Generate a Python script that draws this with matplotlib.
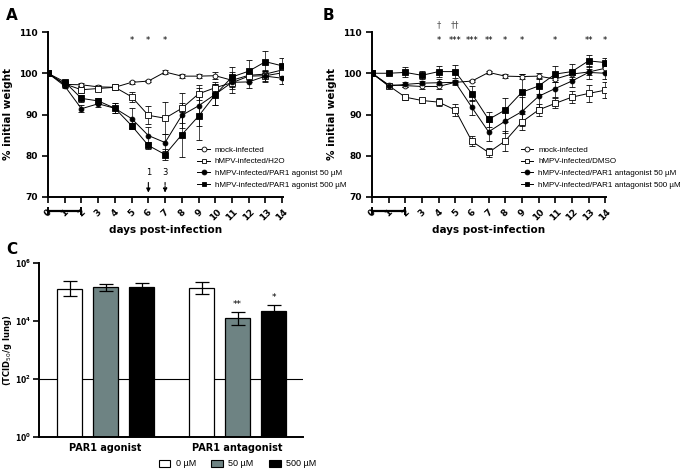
import matplotlib

matplotlib.use("Agg")
import matplotlib.pyplot as plt
from matplotlib.lines import Line2D
from matplotlib.patches import Patch

days = list(range(15))

# panel A: PAR1 agonist
a_mock = [100, 97.3, 97.2, 96.7, 96.6, 97.8, 98.1, 100.3, 99.3, 99.3, 99.4, 98.3, 99.5, 99.8, 100.8]
a_mock_err = [0, 0.4, 0.4, 0.5, 0.5, 0.3, 0.3, 0.4, 0.4, 0.5, 0.8, 1.2, 0.6, 0.8, 1.0]
a_h2o = [100, 97.4, 96.0, 96.3, 96.6, 94.3, 89.8, 89.1, 91.5, 95.0, 96.5, 97.7, 99.3, 99.4, 100.1]
a_h2o_err = [0, 0.5, 0.8, 0.7, 0.7, 1.2, 2.2, 3.9, 3.6, 1.5, 1.3, 1.5, 1.0, 1.2, 1.5]
a_50 = [100, 96.9, 91.4, 92.6, 91.5, 89.0, 84.9, 83.2, 89.8, 92.1, 94.9, 97.8, 97.9, 99.3, 98.8]
a_50_err = [0, 0.5, 0.9, 0.8, 1.2, 2.5, 2.0, 2.0, 3.0, 5.0, 2.5, 2.5, 1.5, 1.5, 1.5]
a_500 = [100, 97.9, 93.9, 93.3, 91.5, 87.3, 82.5, 80.3, 85.1, 89.6, 94.8, 99.1, 100.5, 102.8, 101.8]
a_500_err = [0, 0.5, 0.8, 0.8, 1.2, 0.6, 0.8, 1.3, 5.5, 5.8, 2.5, 2.5, 2.6, 2.5, 2.0]
a_stars = {5: "*", 6: "*", 7: "*"}

# panel B: PAR1 antagonist
b_mock = [100, 97.2, 97.0, 96.8, 96.8, 97.8, 98.1, 100.2, 99.3, 99.2, 99.3, 98.6, 99.8, 100.3, 101.2]
b_mock_err = [0, 0.4, 0.4, 0.5, 0.5, 0.4, 0.3, 0.3, 0.4, 0.5, 0.8, 0.6, 0.6, 0.8, 1.0]
b_dmso = [100, 97.0, 94.2, 93.4, 93.0, 91.1, 83.5, 80.8, 83.6, 88.2, 91.1, 92.7, 94.2, 95.1, 95.9]
b_dmso_err = [0, 0.5, 0.6, 0.5, 1.0, 1.5, 1.2, 1.2, 2.5, 2.0, 1.5, 1.2, 1.5, 2.0, 2.0]
b_50 = [100, 96.9, 97.3, 97.6, 97.7, 97.8, 91.7, 85.8, 88.4, 90.7, 94.4, 96.3, 98.1, 100.2, 100.0]
b_50_err = [0, 0.5, 0.6, 0.6, 0.9, 0.6, 1.8, 2.3, 2.8, 3.5, 2.5, 2.0, 1.5, 1.5, 1.5]
b_500 = [100, 100.0, 100.2, 99.5, 100.4, 100.4, 95.0, 88.8, 91.1, 95.4, 96.9, 99.8, 100.4, 103.0, 102.6]
b_500_err = [0, 0.3, 1.2, 1.0, 1.3, 1.5, 1.8, 1.8, 2.8, 4.5, 2.0, 2.0, 1.8, 1.5, 1.2]
b_stars = {4: "*", 5: "***", 6: "***", 7: "**", 8: "*", 9: "*", 11: "*", 13: "**", 14: "*"}
b_daggers = {4: "\u2020", 5: "\u2020\u2020"}

# panel C: lung titres
groups = ["PAR1 agonist", "PAR1 antagonist"]
doses = ["0 \u00b5M", "50 \u00b5M", "500 \u00b5M"]
titre = [[1.3e5, 1.5e5, 1.5e5], [1.4e5, 1.27e4, 2.2e4]]
titre_lo = [[7.3e4, 1.07e5, 1.2e5], [8.3e4, 7.4e3, 1.5e4]]
titre_hi = [[2.4e5, 1.95e5, 2.1e5], [2.2e5, 2.1e4, 3.5e4]]
titre_stars = [["", "", ""], ["", "**", "*"]]
detection_limit = 1e2

plt.rcParams["font.family"] = "DejaVu Sans"
fig = plt.figure(figsize=(6.83, 4.76), dpi=100)


def style_axes(ax, labelsize=6.5):
    for s in ("top", "right"):
        ax.spines[s].set_visible(False)
    for s in ("left", "bottom"):
        ax.spines[s].set_linewidth(1.4)
    ax.tick_params(width=1.2, length=4, labelsize=labelsize)
    for lab in ax.get_yticklabels():
        lab.set_fontweight("bold")


def weight_panel(ax, series, labels, stars, letter, letter_x):
    markers = [("o", "white"), ("s", "white"), ("o", "black"), ("s", "black")]
    handles = []
    for (vals, err), (m, fc), lab in zip(series, markers, labels):
        ax.errorbar(days, vals, yerr=err, color="black", lw=0.7, elinewidth=0.5,
                    capsize=2, capthick=0.5, marker=m, ms=3.5 if m == "o" else 3.8,
                    mfc=fc, mec="black", mew=0.6)
        handles.append(Line2D([], [], color="black", lw=0.7, marker=m, ms=3.5,
                              mfc=fc, mec="black", mew=0.6, label=lab))
    ax.set_xlim(0, 14.05)
    ax.set_ylim(70, 110)
    ax.set_yticks([70, 80, 90, 100, 110])
    ax.set_xticks(days)
    ax.set_xticklabels([str(d) for d in days], rotation=45, ha="center",
                       fontweight="bold", fontsize=6.5)
    style_axes(ax)
    ax.set_xlabel("days post-infection", fontsize=7.5, fontweight="bold", labelpad=2)
    ax.set_ylabel("% initial weight", fontsize=7.5, fontweight="bold")
    ax.yaxis.set_label_coords(-0.148, 0.5)
    for d, s in stars.items():
        ax.text(d, 108.0, s, ha="center", va="center", fontsize=6)
    ax.plot([0, 2], [66.6, 66.6], color="black", lw=1.6, clip_on=False)
    ax.plot([0, 2], [66.6, 66.6], ls="none", marker="|", ms=6, mew=1.4,
            color="black", clip_on=False)
    ax.legend(handles=handles, loc="lower left", bbox_to_anchor=(0.635, 0.05),
              frameon=False, prop={"family": "Liberation Sans", "size": 5.8},
              handlelength=1.6, labelspacing=0.5, borderpad=0, borderaxespad=0,
              handletextpad=0.6)
    ax.text(letter_x, 1.103, letter, transform=ax.transAxes, fontsize=11,
            fontweight="bold", ha="center", va="center")


axA = fig.add_axes([48 / 683, 1 - 197 / 476, 235 / 683, 165 / 476])
weight_panel(axA, [(a_mock, a_mock_err), (a_h2o, a_h2o_err), (a_50, a_50_err), (a_500, a_500_err)],
             ["mock-infected", "hMPV-infected/H2O", "hMPV-infected/PAR1 agonist 50 \u00b5M",
              "hMPV-infected/PAR1 agonist 500 \u00b5M"], a_stars, "A", -0.153)
for d, n, ls in [(6, "1", "-"), (7, "3", (0, (2, 1)))]:
    axA.annotate("", xy=(d, 70.4), xytext=(d, 74.2),
                 arrowprops=dict(arrowstyle="-|>", color="black", lw=0.8,
                                 linestyle=ls, mutation_scale=6))
    axA.text(d, 75.9, n, ha="center", va="center", fontsize=6)

axB = fig.add_axes([372 / 683, 1 - 197 / 476, 234 / 683, 165 / 476])
weight_panel(axB, [(b_mock, b_mock_err), (b_dmso, b_dmso_err), (b_50, b_50_err), (b_500, b_500_err)],
             ["mock-infected", "hMPV-infected/DMSO", "hMPV-infected/PAR1 antagonist 50 \u00b5M",
              "hMPV-infected/PAR1 antagonist 500 \u00b5M"], b_stars, "B", -0.188)
for d, s in b_daggers.items():
    axB.text(d, 111.7, s, ha="center", va="center", fontsize=6, color="#555555")

# panel C
axC = fig.add_axes([39 / 683, 1 - 437 / 476, 264 / 683, 174 / 476])
colors = ["white", "#6e8383", "black"]
group_x = [0.0, 3.67]
for gi, gx in enumerate(group_x):
    for di in range(3):
        x = gx + di
        v = titre[gi][di]
        axC.bar(x, v, width=0.68, color=colors[di], edgecolor="black", lw=0.9, zorder=2)
        axC.errorbar(x, v, yerr=[[v - titre_lo[gi][di]], [titre_hi[gi][di] - v]],
                     color="black", lw=0.9, capsize=5, capthick=0.9, zorder=3)
        if titre_stars[gi][di]:
            axC.text(x, titre_hi[gi][di] * 1.25, titre_stars[gi][di], ha="center",
                     va="bottom", fontsize=6.5)
axC.axhline(detection_limit, color="black", lw=0.8, zorder=1)
axC.set_yscale("log")
axC.set_ylim(1, 1e6)
axC.set_yticks([1, 1e2, 1e4, 1e6])
axC.set_yticklabels(["$\\mathbf{10^{0}}$", "$\\mathbf{10^{2}}$", "$\\mathbf{10^{4}}$", "$\\mathbf{10^{6}}$"])
axC.minorticks_off()
axC.set_xlim(-0.85, 6.49)
axC.set_xticks([gx + 1 for gx in group_x])
axC.set_xticklabels(groups, fontweight="bold")
style_axes(axC, labelsize=5.5)
axC.tick_params(axis="y", pad=1.5)
axC.tick_params(axis="x", length=0, pad=4, labelsize=7)
axC.set_ylabel("(TCID$_{50}$/g lung)", fontsize=6, fontweight="bold")
axC.yaxis.set_label_coords(-0.095, 0.5)
axC.text(-0.102, 1.075, "C", transform=axC.transAxes, fontsize=11,
         fontweight="bold", ha="center", va="center")
fig.legend(handles=[Patch(facecolor=c, edgecolor="black", lw=0.8, label=l) for c, l in zip(colors, doses)],
           loc="center left", bbox_to_anchor=(154 / 683, 1 - 464 / 476), ncol=3, frameon=False,
           prop={"family": "Liberation Sans", "size": 6.5}, handlelength=1.3, handleheight=0.9,
           columnspacing=1.7, handletextpad=0.6, borderpad=0)

fig.savefig("out.png", dpi=100)
